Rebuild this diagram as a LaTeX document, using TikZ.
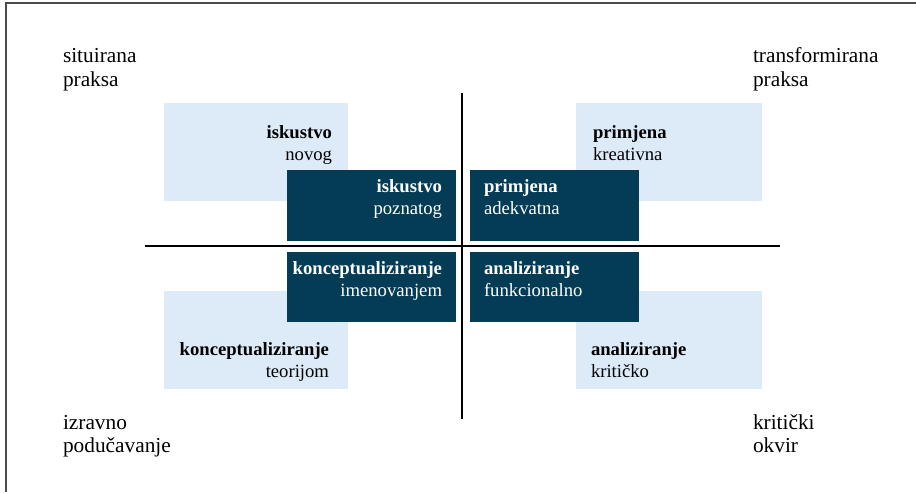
\documentclass[tikz,border=0pt]{standalone}
\usepackage{fontspec}
\setmainfont{Liberation Serif}
\usepackage{xcolor}
\definecolor{paleblue}{HTML}{DDEBF8}
\definecolor{deepteal}{HTML}{043C56}

\begin{document}
\begin{tikzpicture}[x=0.75pt, y=-0.75pt, line width=1.5pt,
  corner/.style={inner sep=0pt, font=\fontsize{16}{17}\selectfont},
  boxtxt/.style={inner sep=0pt, font=\fontsize{14}{16}\selectfont}]
  \useasboundingbox (0,0) rectangle (916,492);
  % frame
  \draw[gray!60!black, line width=1.2pt] (6,492) -- (6,3) -- (916,3);
  % pale boxes
  \fill[paleblue] (164,103) rectangle (348,201);
  \fill[paleblue] (576,103) rectangle (762,201);
  \fill[paleblue] (164,291) rectangle (348,389);
  \fill[paleblue] (576,291) rectangle (762,389);
  % deep boxes
  \fill[deepteal] (287,170) rectangle (456,241);
  \fill[deepteal] (470,170) rectangle (639,241);
  \fill[deepteal] (287,252) rectangle (456,322);
  \fill[deepteal] (470,252) rectangle (639,322);
  % axes
  \coordinate (vtop) at (462,93);
  \coordinate (vbot) at (462,419);
  \coordinate (hleft) at (145,246);
  \coordinate (hright) at (780,246);
  \draw (vtop) -- (vbot);
  \draw (hleft) -- (hright);
  % corner labels
  \node[corner, anchor=base west] (sit1) at (62,63) {situirana};
  \node[corner, anchor=base west] (sit2) at (62,86) {praksa};
  \node[corner, anchor=base west] (tra1) at (752,63) {transformirana};
  \node[corner, anchor=base west] (tra2) at (752,86) {praksa};
  \node[corner, anchor=base west] (izr1) at (62,429) {izravno};
  \node[corner, anchor=base west] (izr2) at (62,452) {podučavanje};
  \node[corner, anchor=base west] (kri1) at (752,429) {kritički};
  \node[corner, anchor=base west] (kri2) at (752,452) {okvir};
  % pale box texts
  \node[boxtxt, anchor=base east] (isk1) at (333,138) {\textbf{iskustvo}};
  \node[boxtxt, anchor=base east] (isk2) at (333,160) {novog};
  \node[boxtxt, anchor=base west] (pri1) at (592,138) {\textbf{primjena}};
  \node[boxtxt, anchor=base west] (pri2) at (592,160) {kreativna};
  \node[boxtxt, anchor=base east] (kon1) at (330,355) {\textbf{konceptualiziranje}};
  \node[boxtxt, anchor=base east] (kon2) at (330,377) {teorijom};
  \node[boxtxt, anchor=base west] (ana1) at (590,355) {\textbf{analiziranje}};
  \node[boxtxt, anchor=base west] (ana2) at (590,377) {kritičko};
  % deep box texts
  \node[boxtxt, white, anchor=base east] (iskd1) at (443,192) {\textbf{iskustvo}};
  \node[boxtxt, white, anchor=base east] (iskd2) at (443,214) {poznatog};
  \node[boxtxt, white, anchor=base west] (prid1) at (483,192) {\textbf{primjena}};
  \node[boxtxt, white, anchor=base west] (prid2) at (483,214) {adekvatna};
  \node[boxtxt, white, anchor=base east] (kond1) at (443,274) {\textbf{konceptualiziranje}};
  \node[boxtxt, white, anchor=base east] (kond2) at (443,296) {imenovanjem};
  \node[boxtxt, white, anchor=base west] (anad1) at (483,274) {\textbf{analiziranje}};
  \node[boxtxt, white, anchor=base west] (anad2) at (483,296) {funkcionalno};
\end{tikzpicture}
\end{document}
